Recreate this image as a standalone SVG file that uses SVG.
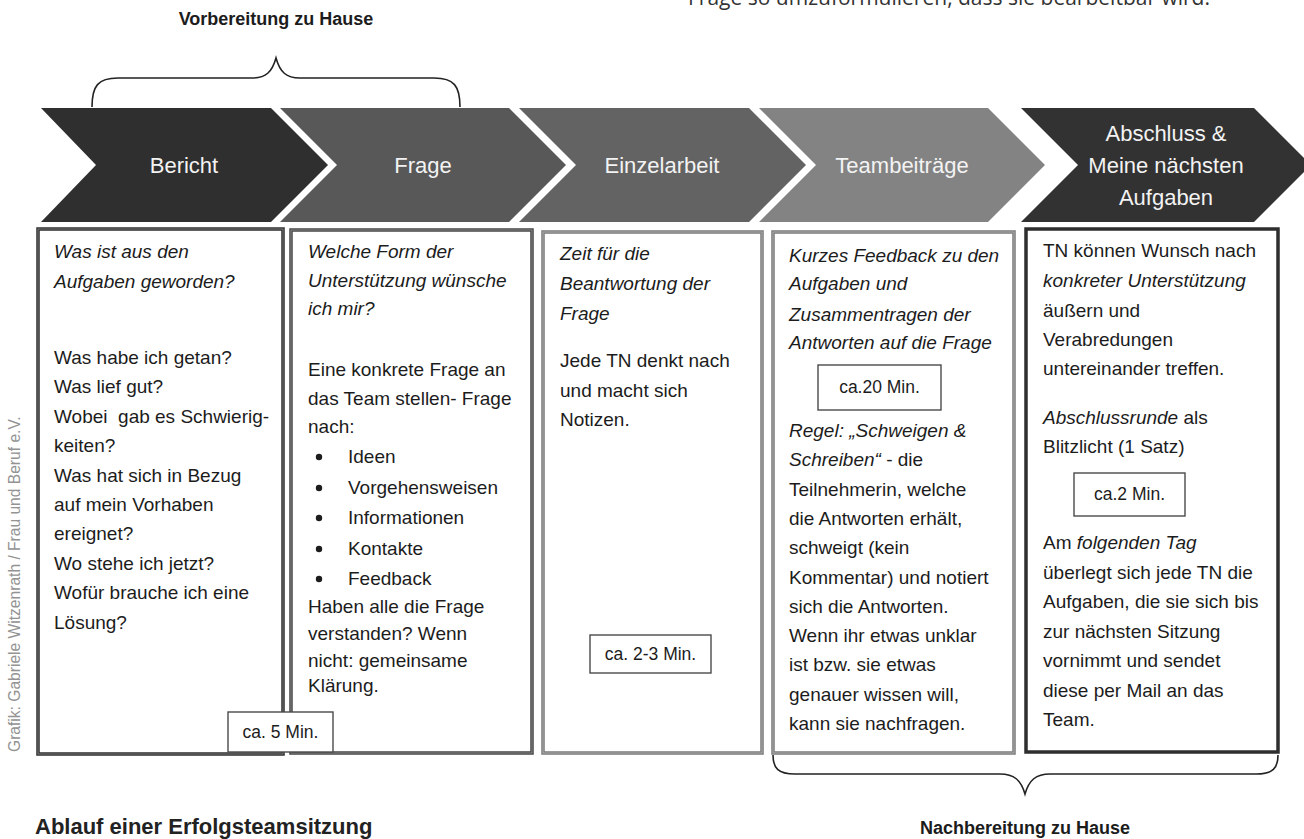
<svg xmlns="http://www.w3.org/2000/svg" width="1304" height="839" viewBox="0 0 1304 839">
<style>
  .t { font-family: "Liberation Sans", Arial, sans-serif; font-size: 19px; fill: #1c1c1c; }
  .i { font-style: italic; }
  .cl { font-family: "Liberation Sans", Arial, sans-serif; font-size: 22px; fill: #f3f3f3; text-anchor: middle; }
  .hd { font-family: "Liberation Sans", Arial, sans-serif; font-size: 18px; font-weight: bold; fill: #1c1c1c; text-anchor: middle; }
  .box { fill: #ffffff; stroke-width: 3.5; }
  .dark { stroke: #2e2e2e; }
  .mid { stroke: #454545; }
  .grey { stroke: #7a7a7a; }
  .inner { fill: none; stroke: #ffffff; stroke-width: 0.8; opacity: 0.45; }
  .min { fill: #ffffff; stroke: #4a4a4a; stroke-width: 1.4; }
  .mt { font-family: "Liberation Sans", Arial, sans-serif; font-size: 17.5px; fill: #1c1c1c; text-anchor: middle; }
  .brace { fill: none; stroke: #222; stroke-width: 1.6; }
</style>

<text x="688" y="5" style="font-family:'Open Sans','Liberation Sans',sans-serif;font-size:21px;fill:#333">Frage so umzuformulieren, dass sie bearbeitbar wird.</text>

<text class="hd" x="276" y="25">Vorbereitung zu Hause</text>

<g id="braces">
  <path class="brace" d="M92,107 C92,86 98,78 118,78 L252,78 C266,78 272,72 276,58 C280,72 286,78 300,78 L434,78 C454,78 460,86 460,107"/>
  <path class="brace" d="M773,755 C773,768 778,774 795,774 L1000,774 C1014,774 1021,780 1025,794 C1029,780 1036,774 1050,774 L1256,774 C1273,774 1278,768 1278,755"/>
</g>

<g id="chevron-bericht">
  <polygon points="41,108 271,108 328,165 271,222 41,222 96,165" fill="#2f2f2f"/>
  <text class="cl" x="184" y="173">Bericht</text>
</g>
<g id="chevron-frage">
  <polygon points="280,108 509,108 566,165 509,222 280,222 337,165" fill="#585858"/>
  <text class="cl" x="423" y="173">Frage</text>
</g>
<g id="chevron-einzelarbeit">
  <polygon points="519,108 749,108 806,165 749,222 519,222 576,165" fill="#636363"/>
  <text class="cl" x="662" y="173">Einzelarbeit</text>
</g>
<g id="chevron-teambeitraege">
  <polygon points="759,108 988,108 1045,165 988,222 759,222 816,165" fill="#838383"/>
  <text class="cl" x="902" y="173">Teambeiträge</text>
</g>
<g id="chevron-abschluss">
  <polygon points="1021,108 1254,108 1311,165 1254,222 1021,222 1078,165" fill="#323232"/>
  <text class="cl" x="1166" y="141">Abschluss &amp;</text>
  <text class="cl" x="1166" y="173">Meine nächsten</text>
  <text class="cl" x="1166" y="205">Aufgaben</text>
</g>

<g id="box-bericht">
  <rect class="box dark" x="38" y="229" width="245" height="525"/>
  <rect class="inner" x="38" y="229" width="245" height="525"/>
  <text class="t i" x="54" y="258">Was ist aus den</text>
  <text class="t i" x="54" y="288">Aufgaben geworden?</text>
  <text class="t" x="54" y="364">Was habe ich getan?</text>
  <text class="t" x="54" y="393.4">Was lief gut?</text>
  <text class="t" x="54" y="422.8" xml:space="preserve">Wobei  gab es Schwierig-</text>
  <text class="t" x="54" y="452.2">keiten?</text>
  <text class="t" x="54" y="481.6">Was hat sich in Bezug</text>
  <text class="t" x="54" y="511">auf mein Vorhaben</text>
  <text class="t" x="54" y="540.4">ereignet?</text>
  <text class="t" x="54" y="569.8">Wo stehe ich jetzt?</text>
  <text class="t" x="54" y="599.2">Wofür brauche ich eine</text>
  <text class="t" x="54" y="628.6">Lösung?</text>
</g>

<g id="box-frage">
  <rect class="box mid" x="291" y="230" width="241" height="523"/>
  <rect class="inner" x="291" y="230" width="241" height="523"/>
  <text class="t i" x="308" y="258">Welche Form der</text>
  <text class="t i" x="308" y="287">Unterstützung wünsche</text>
  <text class="t i" x="308" y="315">ich mir?</text>
  <text class="t" x="308" y="376">Eine konkrete Frage an</text>
  <text class="t" x="308" y="405">das Team stellen- Frage</text>
  <text class="t" x="308" y="433">nach:</text>
  <circle cx="319" cy="457" r="3.2" fill="#1c1c1c"/>
  <text class="t" x="348" y="463">Ideen</text>
  <circle cx="319" cy="488" r="3.2" fill="#1c1c1c"/>
  <text class="t" x="348" y="494">Vorgehensweisen</text>
  <circle cx="319" cy="518" r="3.2" fill="#1c1c1c"/>
  <text class="t" x="348" y="524">Informationen</text>
  <circle cx="319" cy="549" r="3.2" fill="#1c1c1c"/>
  <text class="t" x="348" y="555">Kontakte</text>
  <circle cx="319" cy="579" r="3.2" fill="#1c1c1c"/>
  <text class="t" x="348" y="585">Feedback</text>
  <text class="t" x="308" y="613">Haben alle die Frage</text>
  <text class="t" x="308" y="640">verstanden? Wenn</text>
  <text class="t" x="308" y="667">nicht: gemeinsame</text>
  <text class="t" x="308" y="692">Klärung.</text>
</g>

<g id="min-5">
  <rect class="min" x="228" y="712" width="105" height="40"/>
  <text class="mt" x="280.5" y="738">ca. 5 Min.</text>
</g>

<g id="box-einzelarbeit">
  <rect class="box grey" x="543" y="232" width="219" height="521"/>
  <rect class="inner" x="543" y="232" width="219" height="521"/>
  <text class="t i" x="560" y="260">Zeit für die</text>
  <text class="t i" x="560" y="290">Beantwortung der</text>
  <text class="t i" x="560" y="320">Frage</text>
  <text class="t" x="560" y="367">Jede TN denkt nach</text>
  <text class="t" x="560" y="397">und macht sich</text>
  <text class="t" x="560" y="426">Notizen.</text>
  <rect class="min" x="590" y="635" width="121" height="38"/>
  <text class="mt" x="650.5" y="660">ca. 2-3 Min.</text>
</g>

<g id="box-teambeitraege">
  <rect class="box grey" x="773" y="232" width="241" height="521"/>
  <rect class="inner" x="773" y="232" width="241" height="521"/>
  <text class="t i" x="789" y="262">Kurzes Feedback zu den</text>
  <text class="t i" x="789" y="290">Aufgaben und</text>
  <text class="t i" x="789" y="321">Zusammentragen der</text>
  <text class="t i" x="789" y="349">Antworten auf die Frage</text>
  <rect class="min" x="818" y="365" width="123" height="45"/>
  <text class="mt" x="879.5" y="393">ca.20 Min.</text>
  <text class="t i" x="789" y="437">Regel: „Schweigen &amp;</text>
  <text class="t" x="789" y="466.3"><tspan class="i">Schreiben“</tspan> - die</text>
  <text class="t" x="789" y="495.6">Teilnehmerin, welche</text>
  <text class="t" x="789" y="524.9">die Antworten erhält,</text>
  <text class="t" x="789" y="554.2">schweigt (kein</text>
  <text class="t" x="789" y="583.5">Kommentar) und notiert</text>
  <text class="t" x="789" y="612.8">sich die Antworten.</text>
  <text class="t" x="789" y="642.1">Wenn ihr etwas unklar</text>
  <text class="t" x="789" y="671.4">ist bzw. sie etwas</text>
  <text class="t" x="789" y="700.7">genauer wissen will,</text>
  <text class="t" x="789" y="730">kann sie nachfragen.</text>
</g>

<g id="box-abschluss">
  <rect class="box dark" x="1026" y="229" width="252" height="523"/>
  <text class="t" x="1043" y="257">TN können Wunsch nach</text>
  <text class="t i" x="1043" y="287">konkreter Unterstützung</text>
  <text class="t" x="1043" y="317">äußern und</text>
  <text class="t" x="1043" y="346">Verabredungen</text>
  <text class="t" x="1043" y="375">untereinander treffen.</text>
  <text class="t" x="1043" y="424"><tspan class="i">Abschlussrunde</tspan> als</text>
  <text class="t" x="1043" y="453">Blitzlicht (1 Satz)</text>
  <rect class="min" x="1074" y="473" width="111" height="43"/>
  <text class="mt" x="1129.5" y="500">ca.2 Min.</text>
  <text class="t" x="1043" y="549">Am <tspan class="i">folgenden Tag</tspan></text>
  <text class="t" x="1043" y="578.5">überlegt sich jede TN die</text>
  <text class="t" x="1043" y="608">Aufgaben, die sie sich bis</text>
  <text class="t" x="1043" y="637.5">zur nächsten Sitzung</text>
  <text class="t" x="1043" y="667">vornimmt und sendet</text>
  <text class="t" x="1043" y="696.5">diese per Mail an das</text>
  <text class="t" x="1043" y="726">Team.</text>
</g>

<text class="hd" x="1025" y="834">Nachbereitung zu Hause</text>

<text x="35" y="834" style="font-family:'Liberation Sans',Arial,sans-serif;font-size:22px;font-weight:bold;fill:#222">Ablauf einer Erfolgsteamsitzung</text>

<text transform="translate(20,752) rotate(-90)" style="font-family:'Liberation Sans',Arial,sans-serif;font-size:15.6px;fill:#939393">Grafik: Gabriele Witzenrath / Frau und Beruf e.V.</text>
</svg>
